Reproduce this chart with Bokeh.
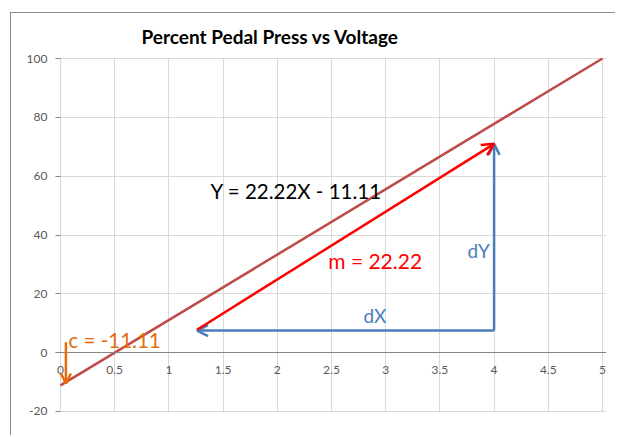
from bokeh.plotting import figure
from bokeh.models import Range1d, FixedTicker, Arrow, OpenHead, LabelSet, ColumnDataSource
from bokeh.core.properties import value
from bokeh.embed import file_html
from bokeh.resources import INLINE

# ---- chart data ----
line_x = [0, 5]
line_y = [-11.11, 100]

x_ticks = [0, 0.5, 1, 1.5, 2, 2.5, 3, 3.5, 4, 4.5, 5]
x_tick_labels = ["0", "0.5", "1", "1.5", "2", "2.5", "3", "3.5", "4", "4.5", "5"]
y_ticks = [-20, 0, 20, 40, 60, 80, 100]
y_tick_labels = ["-20", "0", "20", "40", "60", "80", "100"]

title_text = "Percent Pedal Press vs Voltage"
equation_text = "Y = 22.22X - 11.11"
slope_text = "m = 22.22"
intercept_text = "c = -11.11"
dx_text = "dX"
dy_text = "dY"

# annotation anchors (data units)
run_start = (4.0, 7.5)
run_end = (1.26, 7.5)
rise_end = (4.0, 71.0)
slope_start = (1.26, 7.8)
slope_end = (4.0, 71.0)
icpt_start = (0.05, 3.5)
icpt_end = (0.05, -10.5)

LINE_COL = "#BE4B48"
RED = "#FF0000"
BLUE = "#4A7EBB"
ORANGE = "#E46C0A"
GRID = "#D9D9D9"
AXIS = "#868686"
TICKTXT = "#595959"
FONT = "Lato"

# small padding around [0, 5] x [-20, 100] so edge tick labels are not clipped
p = figure(width=605, height=423, output_backend="svg", toolbar_location=None,
           x_range=Range1d(-0.046, 5.037), y_range=Range1d(-20.35, 100.35),
           min_border_left=44, min_border_right=10, min_border_top=44, min_border_bottom=24)
p.background_fill_color = "white"
p.border_fill_color = "white"
p.outline_line_color = None
p.styles = {"margin-left": "10px", "margin-top": "12px",
            "border-left": "1px solid #8c8c8c", "border-top": "1px solid #8c8c8c"}

# title
p.title.text = title_text
p.title.text_font = FONT
p.title.text_font_style = "bold"
p.title.text_font_size = "19px"
p.title.text_color = "black"
p.title.align = "left"
p.title.offset = 86
p.title.standoff = 19

# x axis line crossing at y = 0 (labels placed at the crossing below)
xa = p.xaxis[0]
xa.ticker = FixedTicker(ticks=[])
xa.fixed_location = 0
xa.axis_line_color = AXIS
xa.major_tick_in = 0
xa.major_tick_out = 0
xa.minor_tick_line_color = None

xsrc = ColumnDataSource(dict(x=x_ticks, y=[0] * len(x_ticks), text=x_tick_labels))
p.add_layout(LabelSet(x="x", y="y", text="text", source=xsrc,
                      text_align="center", text_baseline="top", y_offset=-13,
                      text_font=value(FONT), text_font_size=value("12px"),
                      text_color=TICKTXT))

ya = p.yaxis[0]
ya.ticker = FixedTicker(ticks=y_ticks)
ya.major_label_overrides = {t: s for t, s in zip(y_ticks, y_tick_labels)}
ya.axis_line_color = None
ya.major_tick_in = 5
ya.major_tick_out = 0
ya.major_tick_line_color = AXIS
ya.minor_tick_line_color = None
ya.major_label_standoff = 8
ya.major_label_text_font = FONT
ya.major_label_text_font_size = "12px"
ya.major_label_text_color = TICKTXT

p.xgrid.ticker = FixedTicker(ticks=x_ticks)
p.ygrid.ticker = FixedTicker(ticks=y_ticks)
p.xgrid.grid_line_color = GRID
p.ygrid.grid_line_color = GRID

# main line
p.line(line_x, line_y, line_color=LINE_COL, line_width=2.5)

# arrows
def add_arrow(start, end, color, width, size):
    p.add_layout(Arrow(end=OpenHead(size=size, line_color=color, line_width=width),
                       x_start=start[0], y_start=start[1], x_end=end[0], y_end=end[1],
                       line_color=color, line_width=width))

add_arrow(run_start, run_end, BLUE, 2.5, 11)
add_arrow(run_start, rise_end, BLUE, 2.5, 11)
add_arrow(slope_start, slope_end, RED, 2.5, 12)
add_arrow(icpt_start, icpt_end, ORANGE, 2.5, 10)

# texts
def add_text(x, y, txt, color, size):
    p.text(x=[x], y=[y], text=[txt], text_font=value(FONT), text_font_size=size,
           text_color=color, text_align="left", text_baseline="middle")

add_text(1.384, 54.8, equation_text, "black", "20.5px")
add_text(2.47, 31.4, slope_text, RED, "21px")
add_text(0.074, 4.3, intercept_text, ORANGE, "20.5px")
add_text(3.755, 34.8, dy_text, BLUE, "19px")
add_text(2.795, 12.8, dx_text, BLUE, "19px")

open("out.html", "w").write(file_html(p, INLINE))
